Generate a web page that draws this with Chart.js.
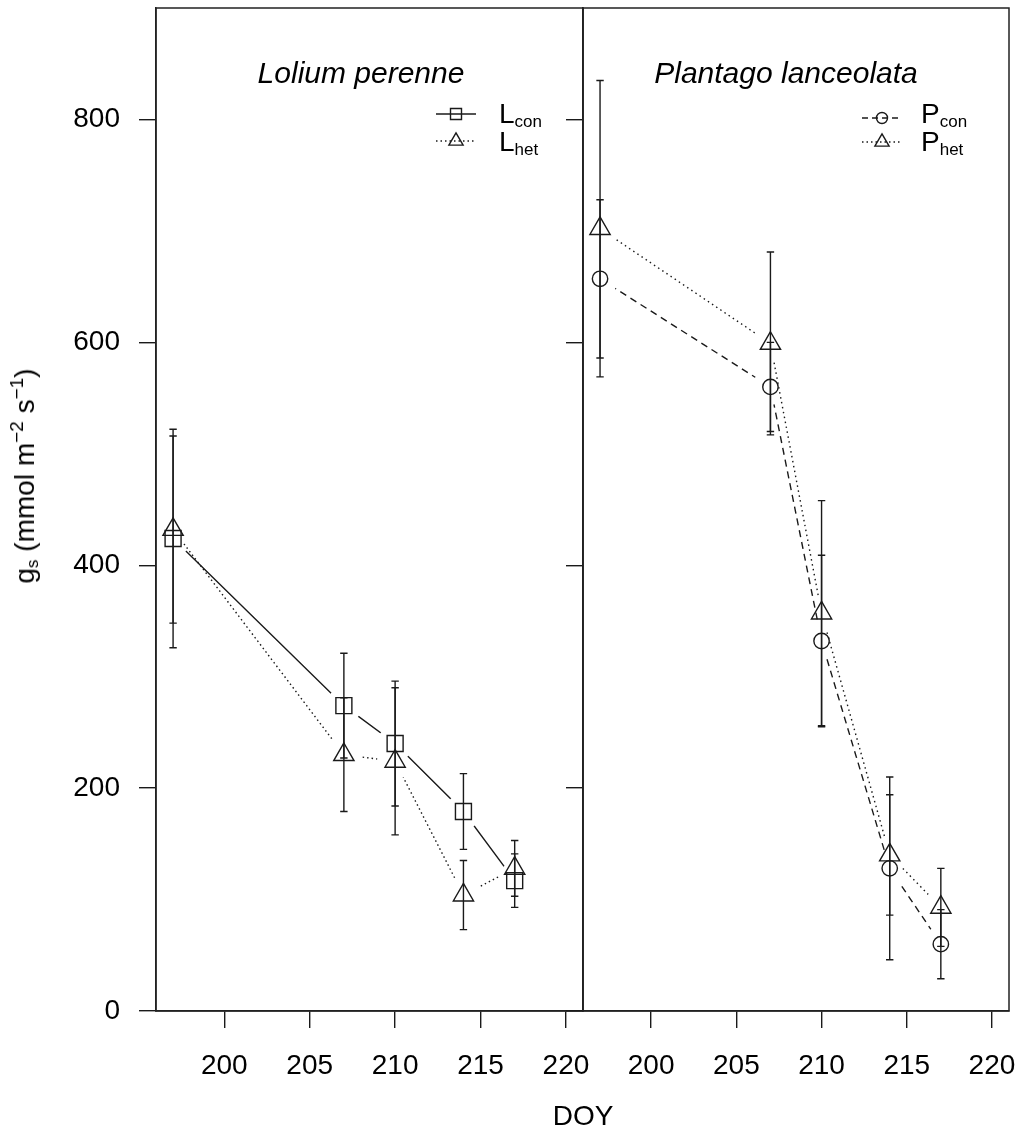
<!DOCTYPE html>
<html>
<head>
<meta charset="utf-8">
<script src="https://cdn.jsdelivr.net/npm/chart.js@4.4.0/dist/chart.umd.min.js"></script>
<style>
html,body{margin:0;padding:0;background:#fff;}
#wrap{position:relative;width:1022px;height:1135px;overflow:hidden;background:#fff;font-family:"Liberation Sans",Arial,Helvetica,sans-serif;color:#000;}
canvas{position:absolute;top:0;}
.t{position:absolute;white-space:nowrap;font-size:28px;line-height:28px;}
.ttl{font-size:30px;line-height:30px;font-style:italic;}
.sub{font-size:17px;position:relative;top:4px;}
.sup{font-size:19px;position:relative;top:-11px;}
</style>
</head>
<body>
<div id="wrap">
  <canvas id="cL" width="620" height="1135" style="left:0px"></canvas>
  <canvas id="cR" width="462" height="1135" style="left:560px"></canvas>

  <div class="t ttl" style="left:361px;top:58px;transform:translateX(-50%)">Lolium perenne</div>
  <div class="t ttl" style="left:786px;top:58px;transform:translateX(-50%)">Plantago lanceolata</div>

  <div class="t" style="left:499px;top:100px">L<span class="sub">con</span></div>
  <div class="t" style="left:499px;top:128px">L<span class="sub">het</span></div>
  <div class="t" style="left:921px;top:100px">P<span class="sub">con</span></div>
  <div class="t" style="left:921px;top:128px">P<span class="sub">het</span></div>

  <div class="t" style="left:583px;top:1102px;transform:translateX(-50%)">DOY</div>
  <div class="t" style="left:27px;top:476px;transform:translate(-50%,-50%) rotate(-90deg)">g<span class="sub">s</span> (mmol m<span class="sup">&minus;2</span> s<span class="sup">&minus;1</span>)</div>
</div>

<script>
// ---- data ----
const days = [197, 207, 210, 214, 217];
const lCon = [424, 274, 240, 179, 117];
const lConErr = [98, 47, 56, 34, 24];
const lHet = [432, 230, 224, 104, 128];
const lHetErr = [84, 51, 66, 31, 25];
const pCon = [657, 560, 332, 128, 60];
const pConErr = [71, 40, 77, 82, 31];
const pHet = [702, 599, 357, 140, 93];
const pHetErr = [133, 82, 101, 54, 35];
const xTicks = [200, 205, 210, 215, 220];
const yTicks = [0, 200, 400, 600, 800];
const xMin = 196, xMax = 221, yMin = 0, yMax = 900;

// ---- styling ----
const INK = '#1a1a1a';
const FONT = '"Liberation Sans", Arial, Helvetica, sans-serif';
const LW = 1.4;

function pts(vals) { return days.map((d, i) => ({ x: d, y: vals[i] })); }

function lineDs(vals, dash) {
  return {
    data: pts(vals), showLine: true, borderColor: INK, borderWidth: LW,
    borderDash: dash, pointRadius: 0, pointHoverRadius: 0, fill: false, gap: 18
  };
}
function markDs(vals, err, style, r) {
  return {
    data: pts(vals), err: err, showLine: false, pointStyle: style,
    pointRadius: r, pointHoverRadius: r, pointBorderColor: INK,
    pointBackgroundColor: 'rgba(0,0,0,0)', pointBorderWidth: LW,
    borderColor: INK, backgroundColor: 'rgba(0,0,0,0)', borderWidth: LW
  };
}

// line gaps around points (R type="b")
const gapPlugin = {
  id: 'gapPlugin',
  beforeDatasetDraw(chart, args) {
    const ds = chart.data.datasets[args.index];
    if (!ds.gap) return;
    const ctx = chart.ctx, a = chart.chartArea;
    ctx.save();
    ctx.beginPath();
    ctx.rect(a.left - 5, a.top - 5, a.right - a.left + 10, a.bottom - a.top + 10);
    args.meta.data.forEach(p => {
      ctx.moveTo(p.x + ds.gap, p.y);
      ctx.arc(p.x, p.y, ds.gap, 0, Math.PI * 2);
    });
    ctx.clip('evenodd');
  },
  afterDatasetDraw(chart, args) {
    const ds = chart.data.datasets[args.index];
    if (!ds.gap) return;
    chart.ctx.restore();
  }
};

// error bars + frame
const barPlugin = {
  id: 'barPlugin',
  afterDatasetsDraw(chart) {
    const ctx = chart.ctx, xs = chart.scales.x, ys = chart.scales.y;
    ctx.save();
    ctx.strokeStyle = INK; ctx.lineWidth = LW; ctx.setLineDash([]);
    chart.data.datasets.forEach(ds => {
      if (!ds.err) return;
      ds.data.forEach((p, j) => {
        const x = xs.getPixelForValue(p.x);
        const y1 = ys.getPixelForValue(p.y + ds.err[j]);
        const y2 = ys.getPixelForValue(p.y - ds.err[j]);
        ctx.beginPath();
        ctx.moveTo(x, y1); ctx.lineTo(x, y2);
        ctx.moveTo(x - 3.7, y1); ctx.lineTo(x + 3.7, y1);
        ctx.moveTo(x - 3.7, y2); ctx.lineTo(x + 3.7, y2);
        ctx.stroke();
      });
    });
    const a = chart.chartArea;
    ctx.strokeStyle = '#222'; ctx.lineWidth = 1.5;
    ctx.strokeRect(a.left, a.top, a.right - a.left, a.bottom - a.top);
    ctx.restore();
  }
};

// legend key symbols
const keyPlugin = {
  id: 'keyPlugin',
  afterDraw(chart, args, opts) {
    const ctx = chart.ctx, a = chart.chartArea;
    (opts.items || []).forEach(it => {
      const y = a.top + it.dy;
      ctx.save();
      ctx.strokeStyle = INK; ctx.lineWidth = LW;
      ctx.setLineDash(it.dash);
      ctx.beginPath();
      ctx.moveTo(a.right - 147, y); ctx.lineTo(a.right - 107, y);
      ctx.stroke();
      ctx.setLineDash([]);
      const cx = a.right - 127;
      ctx.beginPath();
      if (it.style === 'rect') {
        ctx.rect(cx - 5.5, y - 5.5, 11, 11);
      } else if (it.style === 'circle') {
        ctx.arc(cx, y, 5.5, 0, Math.PI * 2);
      } else {
        const r = 8.2;
        ctx.moveTo(cx, y - r);
        ctx.lineTo(cx + 0.866 * r, y + r / 2);
        ctx.lineTo(cx - 0.866 * r, y + r / 2);
        ctx.closePath();
      }
      ctx.stroke();
      ctx.restore();
    });
  }
};

function makeScales(showYLabels, yWidth) {
  return {
    x: {
      type: 'linear', min: xMin, max: xMax,
      afterBuildTicks: s => { s.ticks = xTicks.map(v => ({ value: v })); },
      afterFit: s => { s.height = 124; s.paddingLeft = 0; s.paddingRight = 0; },
      grid: { drawOnChartArea: false, drawTicks: true, tickLength: 17, color: INK, lineWidth: LW },
      border: { display: true, color: '#222', width: 1.5 },
      ticks: { font: { family: FONT, size: 28 }, color: '#000', padding: 21, maxRotation: 0, autoSkip: false }
    },
    y: {
      type: 'linear', min: yMin, max: yMax,
      afterBuildTicks: s => { s.ticks = yTicks.map(v => ({ value: v })); },
      afterFit: s => { s.width = yWidth; s.paddingTop = 0; s.paddingBottom = 0; },
      grid: { drawOnChartArea: false, drawTicks: true, tickLength: 17, color: INK, lineWidth: LW },
      border: { display: true, color: '#222', width: 1.5 },
      ticks: { display: showYLabels, font: { family: FONT, size: 28 }, color: '#000', padding: 19 }
    }
  };
}

function makeChart(id, datasets, yLabels, yWidth, padRight, keyItems) {
  return new Chart(document.getElementById(id), {
    type: 'scatter',
    data: { datasets: datasets },
    options: {
      responsive: false, animation: false, events: [], devicePixelRatio: 1,
      layout: { autoPadding: false, padding: { top: 8, right: padRight, bottom: 0, left: 0 } },
      scales: makeScales(yLabels, yWidth),
      plugins: {
        legend: { display: false }, tooltip: { enabled: false }, title: { display: false },
        keyPlugin: { items: keyItems }
      }
    },
    plugins: [gapPlugin, barPlugin, keyPlugin]
  });
}

makeChart('cL', [
  markDs(lCon, lConErr, 'rect', 11.3),
  markDs(lHet, lHetErr, 'triangle', 11.7),
  lineDs(lCon, []),
  lineDs(lHet, [1.5, 3])
], true, 156, 37, [
  { dy: 106, dash: [], style: 'rect' },
  { dy: 133, dash: [1.5, 3], style: 'triangle' }
]);

makeChart('cR', [
  markDs(pCon, pConErr, 'circle', 7.7),
  markDs(pHet, pHetErr, 'triangle', 11.7),
  lineDs(pCon, [7, 5]),
  lineDs(pHet, [1.5, 3.5])
], false, 23, 13, [
  { dy: 110, dash: [6, 4], style: 'circle' },
  { dy: 134, dash: [1.5, 3], style: 'triangle' }
]);
</script>
</body>
</html>
